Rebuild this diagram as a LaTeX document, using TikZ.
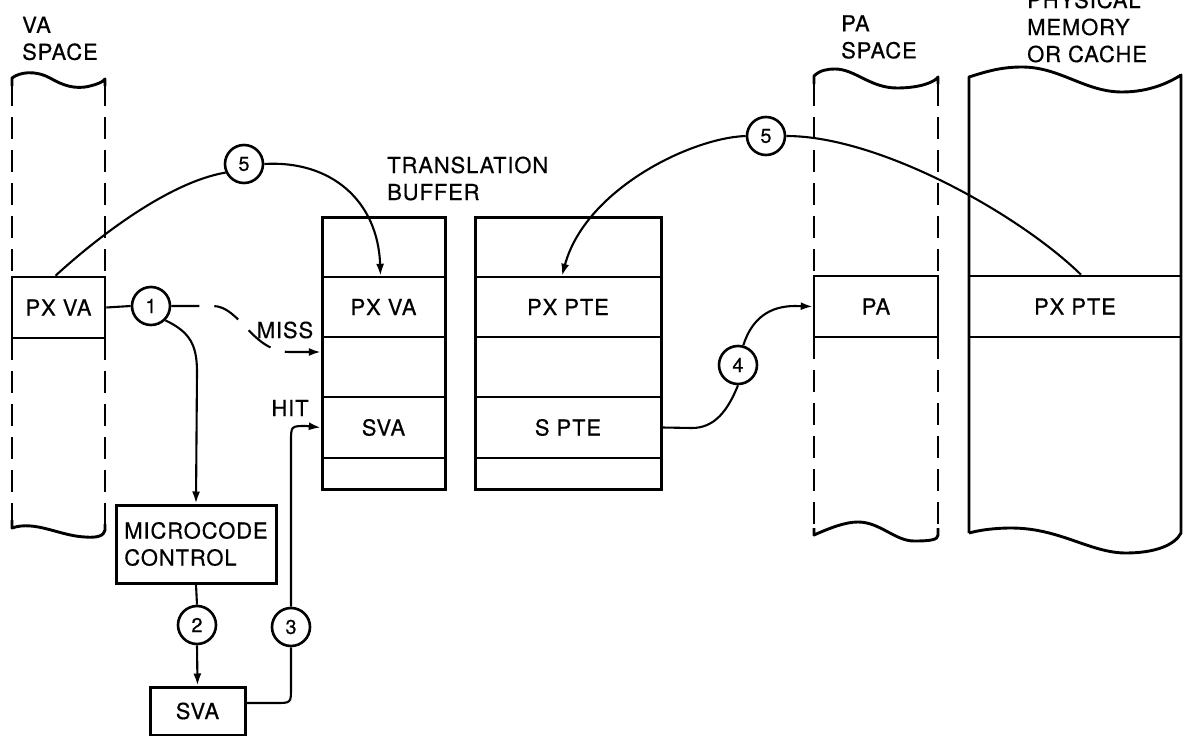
\documentclass[tikz,border=0pt]{standalone}
\usepackage{fontspec}
\setmainfont{TeX Gyre Heros}[LetterSpace=4, FakeBold=0.5]
\usetikzlibrary{arrows.meta,calc}
\begin{document}
\begin{tikzpicture}[x=1pt,y=-1pt,
  font=\fontsize{22}{27}\selectfont,
  box/.style={draw, line width=3pt, inner sep=0pt},
  cell/.style={draw, line width=2.6pt, inner sep=0pt, minimum height=61pt},
  row/.style={draw, line width=2.4pt, inner sep=0pt},
  num/.style={circle, draw, line width=2.6pt, minimum size=38pt, inner sep=0pt, font=\fontsize{20}{24}\selectfont},
  conn/.style={line width=2.1pt},
  arr/.style={conn, -{Latex[length=12pt,width=8pt]}},
  lbl/.style={inner sep=0pt, align=left, anchor=west},
  colside/.style={line width=2.9pt, dash pattern=on 22pt off 11pt},
  colwave/.style={line width=2.9pt, line join=round}]

\useasboundingbox (0,0) rectangle (1184,736);

% ---------- VA space column ----------
\draw[colside] (12,84) -- (12,277);
\draw[colside] (12,338) -- (12,522);
\draw[colside] (105,84) -- (105,277);
\draw[colside] (105,338) -- (105,526);
\draw[colwave] (12,86) -- (12,78) .. controls (20,72) and (35,70) .. (50,78)
  .. controls (62,85) and (75,90) .. (90,86) .. controls (98,84) and (103,82) .. (105,79) -- (105,86);
\draw[colwave] (12,520) -- (12,528) .. controls (35,520) and (60,536) .. (85,537)
  .. controls (97,538) and (104,536) .. (105,530) -- (105,524);
\node[cell, minimum width=93pt] (vapx) at (58.5,307.5) {PX VA};
\node[lbl] (valbl) at (22,38.5) {VA\\SPACE};

% ---------- PA space column ----------
\draw[colside] (814,84) -- (814,276);
\draw[colside] (814,337) -- (814,528);
\draw[colside] (938,84) -- (938,276);
\draw[colside] (938,337) -- (938,528);
\draw[colwave] (814,84) -- (814,76) .. controls (820,70) and (828,69) .. (835,69)
  .. controls (855,69) and (870,88) .. (897,88) .. controls (920,88) and (935,82) .. (938,77) -- (938,84);
\draw[colwave] (814,528) -- (814,535) .. controls (830,528) and (845,522) .. (858,522)
  .. controls (880,522) and (895,541) .. (914,541) .. controls (930,541) and (938,540) .. (938,535) -- (938,528);
\node[cell, minimum width=124pt] (pa) at (876,306.5) {PA};
\node[lbl] (palbl) at (841,37) {PA\\SPACE};

% ---------- Physical memory column ----------
\draw[colwave] (969,533) -- (969,77) .. controls (985,72) and (1000,67) .. (1022,67)
  .. controls (1060,67) and (1085,92) .. (1122,92) .. controls (1150,92) and (1170,82) .. (1181,75)
  -- (1181,533) .. controls (1175,545) and (1155,553) .. (1126,553)
  .. controls (1090,553) and (1060,528) .. (1011,528) .. controls (995,528) and (980,530) .. (969,533);
\node[cell, minimum width=212pt] (mpx) at (1075,306.5) {PX PTE};
\node[lbl] (pmlbl) at (1027,27) {PHYSICAL\\MEMORY\\OR CACHE};

% ---------- Translation buffer ----------
\node[row, minimum width=123pt, minimum height=60pt] (ta0) at (383.5,247) {};
\node[row, minimum width=123pt, minimum height=60pt] (ta1) at (383.5,307) {PX VA};
\node[row, minimum width=123pt, minimum height=60pt] (ta2) at (383.5,367) {};
\node[row, minimum width=123pt, minimum height=61pt] (ta3) at (383.5,427.5) {SVA};
\node[row, minimum width=123pt, minimum height=31pt] (ta4) at (383.5,473.5) {};
\node[box, minimum width=123pt, minimum height=272pt] (tbl) at (383.5,353) {};

\node[row, minimum width=186pt, minimum height=60pt] (tb0) at (568,247) {};
\node[row, minimum width=186pt, minimum height=60pt] (tb1) at (568,307) {PX PTE};
\node[row, minimum width=186pt, minimum height=60pt] (tb2) at (568,367) {};
\node[row, minimum width=186pt, minimum height=61pt] (tb3) at (568,427.5) {S PTE};
\node[row, minimum width=186pt, minimum height=31pt] (tb4) at (568,473.5) {};
\node[box, minimum width=186pt, minimum height=272pt] (tbr) at (568,353) {};

\node[lbl] (tblbl) at (387,178.5) {TRANSLATION\\BUFFER};

% ---------- Microcode and SVA ----------
\node[box, minimum width=160pt, minimum height=78pt, align=left] (mc) at (196,544) {MICROCODE\\CONTROL};
\node[box, minimum width=95pt, minimum height=48pt] (sva) at (197.5,711) {SVA};

% ---------- numbered circles ----------
\node[num] (c1) at (151,306) {1};
\node[num] (c2) at (197,625) {2};
\node[num] (c3) at (291,627) {3};
\node[num] (c4) at (738,365) {4};
\node[num] (c5a) at (244,164) {5};
\node[num] (c5b) at (766,136) {5};

\node[inner sep=0pt] (miss) at (285,330) {MISS};
\node[inner sep=0pt] (hit) at (290,408) {HIT};

% ---------- connectors ----------
\draw[conn] (vapx.east) -- (c1.west);
\draw[arr, dash pattern=on 28pt off 15pt] (c1.east) -- (213,306)
  .. controls (240,306) and (252,352) .. (290,352) -- ([yshift=15pt]ta2.west);
\draw[arr] (c1.-45) .. controls (190,332) and (197,345) .. (197,372) -- (mc.north);
\draw[conn] (mc.south) -- (c2.north);
\draw[arr] (c2.south) -- (sva.north);
\draw[conn] ([yshift=8pt]sva.east) -- (276,703) .. controls (291,703) .. (291,688) -- (c3.south);
\draw[arr] (c3.north) -- (291,442) .. controls (291,426) .. (306,426) -- (ta3.west);

\draw[conn] ([xshift=-3pt]vapx.north) .. controls (100,235) and (170,182) .. (c5a.205);
\draw[arr] (c5a.east) .. controls (330,160) and (378,200) .. ([xshift=-3pt]ta1.north);

\draw[conn] ([xshift=6pt]mpx.north) .. controls (1020,215) and (880,136) .. (c5b.east);
\draw[arr] (c5b.west) .. controls (690,138) and (585,190) .. ([xshift=-6pt]tb1.north);

\draw[conn] (tb3.east) -- (692,428) .. controls (715,428) and (728,410) .. (c4.south);
\draw[arr] (c4.75) .. controls (752,318) and (770,306) .. (795,306) -- (pa.west);
\end{tikzpicture}
\end{document}
